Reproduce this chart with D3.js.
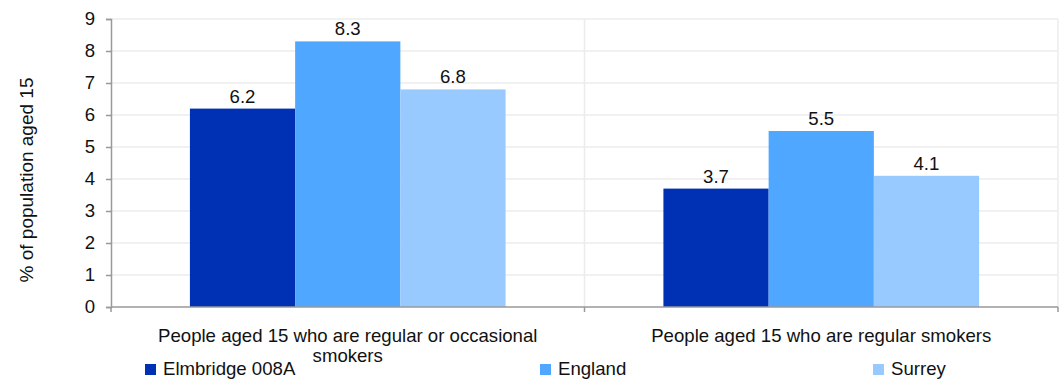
<!DOCTYPE html>
<html>
<head>
<meta charset="utf-8">
<script src="https://cdn.jsdelivr.net/npm/d3@7"></script>
<style>
  body { margin: 0; background: #fff; }
  svg { font-family: "Liberation Sans", Arial, sans-serif; }
</style>
</head>
<body>
<div id="chart"></div>
<script>
// chart data
const categories = [
    "People aged 15 who are regular or occasional smokers",
    "People aged 15 who are regular smokers"
];
const seriesNames = ["Elmbridge 008A", "England", "Surrey"];
const elmbridgeValues = [6.2, 3.7];
const englandValues = [8.3, 5.5];
const surreyValues = [6.8, 4.1];
const yTicks = [0, 1, 2, 3, 4, 5, 6, 7, 8, 9];
const seriesColors = ["#0030b3", "#4fa7ff", "#99caff"];

const W = 1059, H = 379;
const margin = {top: 19, right: 1, bottom: 72, left: 111};
const width = W - margin.left - margin.right;
const height = H - margin.top - margin.bottom;
const fs = 18.6;

const svg = d3.select("#chart").append("svg")
    .attr("width", W)
    .attr("height", H);

const g = svg.append("g")
    .attr("transform", `translate(${margin.left},${margin.top})`);

const x0 = d3.scaleBand()
    .domain(categories)
    .range([0, width])
    .paddingInner(0)
    .paddingOuter(0);

const x1 = d3.scaleBand()
    .domain(seriesNames)
    .range([0, x0.bandwidth()])
    .paddingInner(0)
    .paddingOuter(0.75);

const y = d3.scaleLinear()
    .domain([0, 9])
    .range([height, 0]);

// gridlines
g.append("g")
    .selectAll("line")
    .data(yTicks.filter(d => d > 0))
    .enter().append("line")
    .attr("x1", 0)
    .attr("x2", width)
    .attr("y1", d => y(d))
    .attr("y2", d => y(d))
    .attr("stroke", "#ececec")
    .attr("stroke-width", 1.5);

// vertical separators
g.append("g")
    .selectAll("line")
    .data(categories)
    .enter().append("line")
    .attr("x1", d => x0(d) + x0.bandwidth())
    .attr("x2", d => x0(d) + x0.bandwidth())
    .attr("y1", 0)
    .attr("y2", height)
    .attr("stroke", "#ececec")
    .attr("stroke-width", 1.5);

// bars
const rows = categories.map((c, i) => ({
    category: c,
    values: [elmbridgeValues[i], englandValues[i], surreyValues[i]]
}));

const groups = g.selectAll(".group")
    .data(rows)
    .enter().append("g")
    .attr("class", "group")
    .attr("transform", d => `translate(${x0(d.category)},0)`);

groups.selectAll("rect")
    .data(d => d.values.map((v, j) => ({name: seriesNames[j], value: v, color: seriesColors[j]})))
    .enter().append("rect")
    .attr("x", d => x1(d.name))
    .attr("y", d => y(d.value))
    .attr("width", x1.bandwidth())
    .attr("height", d => height - y(d.value))
    .attr("fill", d => d.color);

groups.selectAll("text")
    .data(d => d.values.map((v, j) => ({name: seriesNames[j], value: v})))
    .enter().append("text")
    .attr("x", d => x1(d.name) + x1.bandwidth() / 2)
    .attr("y", d => y(d.value) - 6)
    .attr("text-anchor", "middle")
    .attr("font-size", fs)
    .attr("fill", "#111")
    .text(d => d3.format(".1f")(d.value));

// y axis
const yAxis = g.append("g")
    .call(d3.axisLeft(y).tickValues(yTicks).tickSize(5).tickPadding(11));
yAxis.select(".domain").attr("stroke", "#999").attr("stroke-width", 1.5);
yAxis.selectAll(".tick line").attr("stroke", "#999").attr("stroke-width", 1.5);
yAxis.selectAll(".tick text").attr("font-size", fs).attr("fill", "#111")
    .attr("font-family", "Liberation Sans, Arial, sans-serif");

// x axis line and ticks
g.append("line")
    .attr("x1", 0).attr("x2", width)
    .attr("y1", height).attr("y2", height)
    .attr("stroke", "#999").attr("stroke-width", 1.5);

g.append("g")
    .selectAll("line")
    .data([0].concat(categories.map(c => x0(c) + x0.bandwidth())))
    .enter().append("line")
    .attr("x1", d => d).attr("x2", d => d)
    .attr("y1", height).attr("y2", height + 5)
    .attr("stroke", "#999").attr("stroke-width", 1.5);

// category labels (wrapped)
const catLines = [
    ["People aged 15 who are regular or occasional", "smokers"],
    ["People aged 15 who are regular smokers"]
];
categories.forEach((c, i) => {
    const t = g.append("text")
        .attr("x", x0(c) + x0.bandwidth() / 2)
        .attr("y", height + 35)
        .attr("text-anchor", "middle")
        .attr("font-size", fs)
        .attr("fill", "#111");
    catLines[i].forEach((line, k) => {
        t.append("tspan")
            .attr("x", x0(c) + x0.bandwidth() / 2)
            .attr("dy", k === 0 ? 0 : 20)
            .text(line);
    });
});

// y axis title
svg.append("text")
    .attr("transform", `translate(33,180) rotate(-90)`)
    .attr("text-anchor", "middle")
    .attr("font-size", 19)
    .attr("fill", "#111")
    .text("% of population aged 15");

// legend
const legendX = [145, 540, 873];
const legend = svg.selectAll(".legend")
    .data(seriesNames)
    .enter().append("g")
    .attr("class", "legend")
    .attr("transform", (d, i) => `translate(${legendX[i]},364)`);

legend.append("rect")
    .attr("width", 11)
    .attr("height", 11)
    .attr("fill", (d, i) => seriesColors[i]);

legend.append("text")
    .attr("x", 18)
    .attr("y", 11)
    .attr("font-size", fs)
    .attr("fill", "#111")
    .text(d => d);
</script>
</body>
</html>
